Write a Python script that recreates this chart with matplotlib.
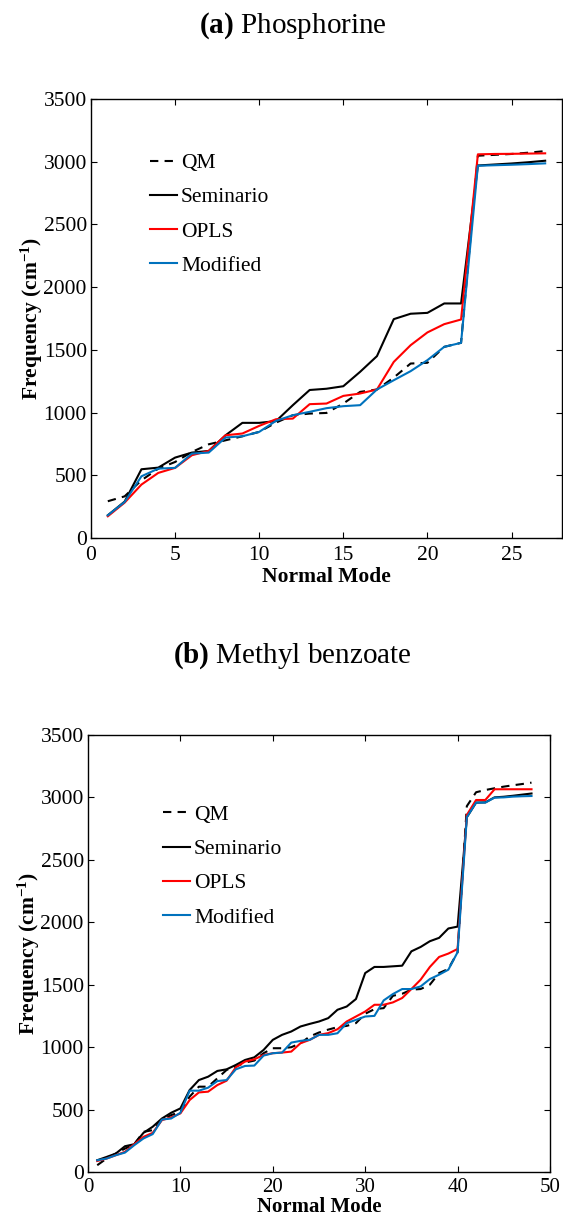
import numpy as np
import matplotlib
matplotlib.use('Agg')
import matplotlib.pyplot as plt

plt.rcParams['font.family'] = ['Liberation Serif', 'DejaVu Serif']
plt.rcParams['mathtext.fontset'] = 'custom'
plt.rcParams['mathtext.rm'] = 'Liberation Serif'
plt.rcParams['mathtext.bf'] = 'Liberation Serif:bold'
plt.rcParams['mathtext.it'] = 'Liberation Serif:italic'

# ------ data ------

# (a) Phosphorine, modes 1-27
modes_a = np.arange(1, 28)
qm_a = [293, 332, 460, 553, 606, 686, 747, 779, 811, 846, 920, 979, 992, 997,
        1072, 1165, 1184, 1279, 1391, 1397, 1524, 1556, 3048, 3055, 3062, 3072, 3085]
sem_a = [181, 290, 548, 561, 641, 681, 694, 819, 918, 918, 932, 1059, 1180, 1190,
         1210, 1325, 1450, 1745, 1788, 1795, 1870, 1870, 2970, 2978, 2986, 2996, 3008]
opls_a = [173, 282, 426, 519, 559, 660, 694, 819, 833, 894, 947, 952, 1067, 1072,
          1133, 1152, 1184, 1404, 1537, 1639, 1705, 1742, 3059, 3062, 3063, 3065, 3067]
mod_a = [181, 287, 492, 553, 559, 673, 681, 801, 811, 846, 934, 979, 1006, 1035,
         1051, 1059, 1184, 1258, 1330, 1418, 1524, 1556, 2968, 2972, 2976, 2981, 2987]

# (b) Methyl benzoate, modes 1-48
modes_b = np.arange(1, 49)
qm_b = [54, 107, 147, 187, 222, 321, 335, 420, 455, 482, 603, 683, 683, 750,
        817, 844, 876, 892, 951, 991, 991, 999, 1031, 1085, 1117, 1140, 1160, 1170,
        1192, 1267, 1304, 1312, 1411, 1427, 1460, 1465, 1500, 1593, 1626, 1760,
        2930, 3041, 3059, 3073, 3086, 3097, 3107, 3118]
sem_b = [94, 120, 147, 206, 222, 313, 362, 428, 474, 509, 656, 736, 763, 809,
         822, 857, 897, 918, 977, 1058, 1098, 1125, 1165, 1186, 1205, 1232, 1299, 1325,
         1385, 1593, 1642, 1642, 1647, 1652, 1767, 1802, 1848, 1875, 1950, 1965,
         2841, 2958, 2960, 3000, 3005, 3013, 3022, 3031]
opls_b = [88, 107, 134, 161, 222, 281, 313, 415, 437, 469, 576, 637, 643, 696,
          731, 838, 884, 902, 937, 951, 956, 964, 1031, 1058, 1098, 1112, 1143, 1205,
          1245, 1285, 1339, 1339, 1358, 1393, 1465, 1540, 1642, 1722, 1749, 1786,
          2859, 2979, 2979, 3065, 3065, 3065, 3065, 3065]
mod_b = [94, 107, 134, 155, 214, 268, 303, 420, 428, 474, 651, 651, 675, 728,
         736, 822, 849, 852, 932, 951, 956, 1036, 1050, 1058, 1098, 1098, 1111, 1192,
         1218, 1245, 1250, 1374, 1425, 1465, 1465, 1486, 1545, 1580, 1620, 1760,
         2841, 2958, 2958, 2998, 3000, 3006, 3009, 3011]

legend_labels = ['QM', 'Seminario', 'OPLS', 'Modified']
fs = 15.5
blue = '#0072BD'

fig = plt.figure(figsize=(5.63, 12.18), dpi=100)
ax1 = fig.add_axes([0.1616, 0.5583, 0.9982 - 0.1616, 0.9187 - 0.5583])
ax2 = fig.add_axes([0.1563, 0.0378, 0.9769 - 0.1563, 0.3966 - 0.0378])


def draw(ax, x, qm, sem, opls, mod, xmax, xticks, leg_anchor, xpad, tpad, xfs):
    ax.plot(x, qm, '--', color='k', lw=1.5, dashes=(4, 3), label=legend_labels[0])
    ax.plot(x, sem, '-', color='k', lw=1.5, label=legend_labels[1])
    ax.plot(x, opls, '-', color='r', lw=1.5, label=legend_labels[2])
    ax.plot(x, mod, '-', color=blue, lw=1.5, label=legend_labels[3])
    ax.set_xlim(0, xmax)
    ax.set_ylim(0, 3500)
    ax.set_xticks(xticks)
    ax.set_yticks(np.arange(0, 3501, 500))
    ax.tick_params(direction='in', top=True, right=True, labelsize=fs,
                   length=4, width=0.8, pad=3)
    ax.tick_params(axis='x', pad=tpad, labelsize=xfs)
    for s in ax.spines.values():
        s.set_linewidth(1.0)
    ax.set_xlabel('Normal Mode', fontsize=xfs, fontweight='bold', labelpad=xpad)
    ax.set_ylabel(r'Frequency (cm$^{\mathbf{-1}}$)', fontsize=fs,
                  fontweight='bold', labelpad=-1)
    ax.legend(loc='upper left', bbox_to_anchor=leg_anchor, frameon=False,
              fontsize=fs, handlelength=1.25, handletextpad=0.2,
              labelspacing=0.66, borderpad=0, borderaxespad=0)


draw(ax1, modes_a, qm_a, sem_a, opls_a, mod_a, 28, np.arange(0, 26, 5),
     (0.125, 0.877), 1, 6, fs)
draw(ax2, modes_b, qm_b, sem_b, opls_b, mod_b, 50, np.arange(0, 51, 10),
     (0.162, 0.840), 0, 4, 15)

fig.text(0.52, 0.979, r'$\mathbf{(a)}$ Phosphorine', fontsize=21,
         ha='center', va='center')
fig.text(0.52, 0.4615, r'$\mathbf{(b)}$ Methyl benzoate', fontsize=21,
         ha='center', va='center')

fig.savefig('out.png', dpi=100)
